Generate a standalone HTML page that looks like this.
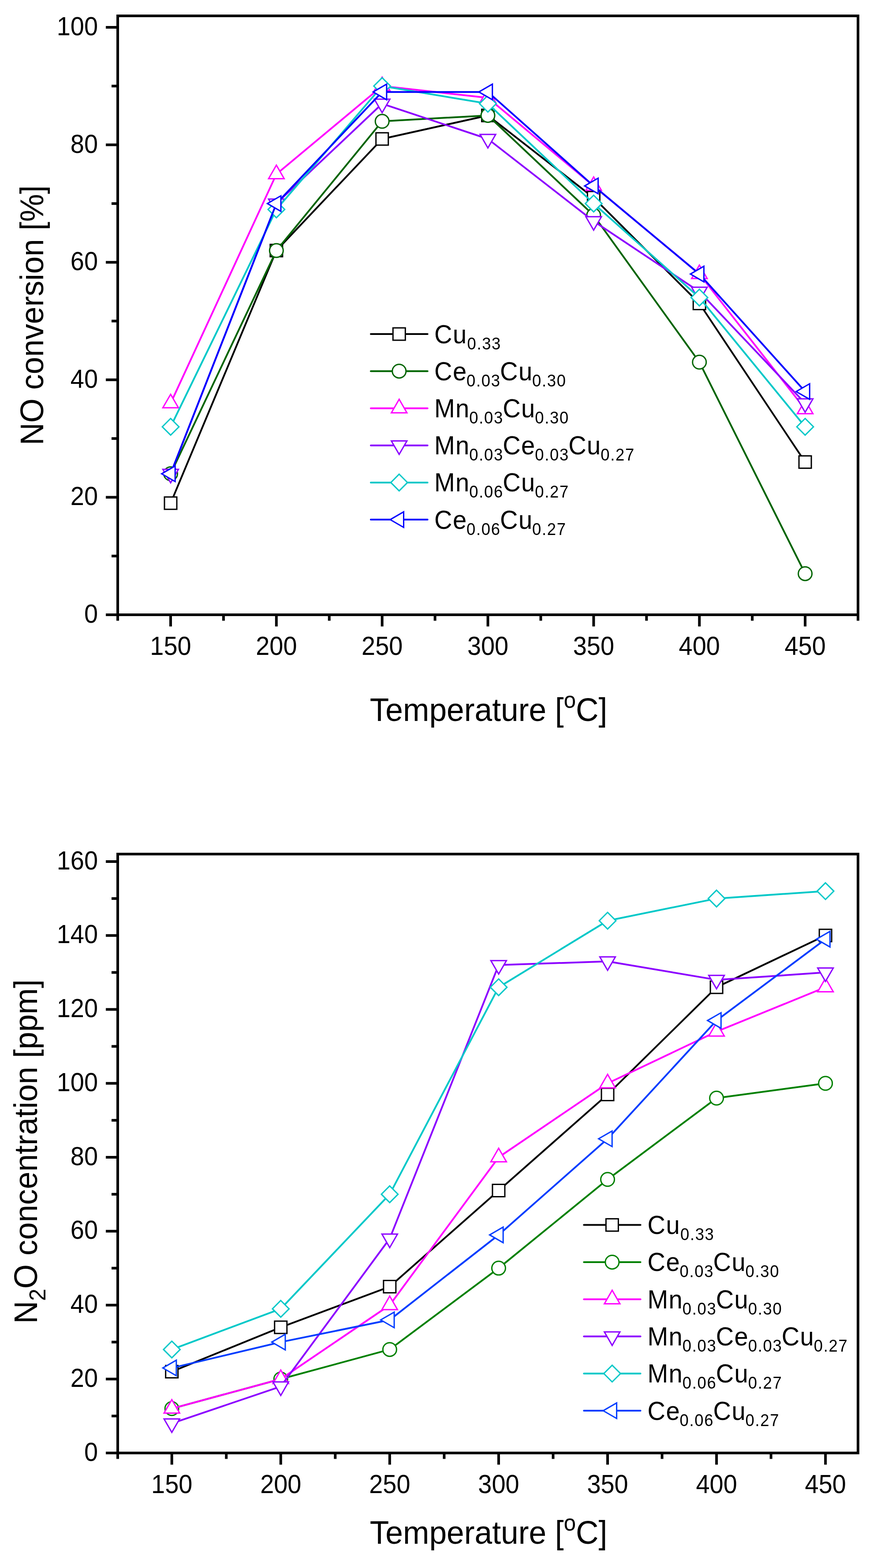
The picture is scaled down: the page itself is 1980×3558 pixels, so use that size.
<!DOCTYPE html>
<html><head><meta charset="utf-8"><title>NO conversion and N2O concentration vs temperature</title>
<style>html,body{margin:0;padding:0;background:#fff;}svg{display:block;}</style></head>
<body>
<svg width="1980" height="3558" viewBox="0 0 1980 3558" font-family="'Liberation Sans', Arial, Helvetica, sans-serif">
<rect width="1980" height="3558" fill="#fff"/>
<polyline points="387.00,1141.73 626.85,568.54 866.70,315.27 1106.55,261.95 1346.40,448.57 1586.25,688.51 1826.10,1048.42" fill="none" stroke="#000000" stroke-width="4" stroke-linejoin="round"/>
<rect x="373.00" y="1127.73" width="28.00" height="28.00" fill="#fff" stroke="#000000" stroke-width="3"/>
<rect x="612.85" y="554.54" width="28.00" height="28.00" fill="#fff" stroke="#000000" stroke-width="3"/>
<rect x="852.70" y="301.27" width="28.00" height="28.00" fill="#fff" stroke="#000000" stroke-width="3"/>
<rect x="1092.55" y="247.95" width="28.00" height="28.00" fill="#fff" stroke="#000000" stroke-width="3"/>
<rect x="1332.40" y="434.57" width="28.00" height="28.00" fill="#fff" stroke="#000000" stroke-width="3"/>
<rect x="1572.25" y="674.51" width="28.00" height="28.00" fill="#fff" stroke="#000000" stroke-width="3"/>
<rect x="1812.10" y="1034.42" width="28.00" height="28.00" fill="#fff" stroke="#000000" stroke-width="3"/>
<polyline points="387.00,1075.08 626.85,568.54 866.70,275.28 1106.55,261.95 1346.40,488.56 1586.25,821.81 1826.10,1301.69" fill="none" stroke="#006400" stroke-width="4" stroke-linejoin="round"/>
<circle cx="387.00" cy="1075.08" r="15.5" fill="#fff" stroke="#006400" stroke-width="3"/>
<circle cx="626.85" cy="568.54" r="15.5" fill="#fff" stroke="#006400" stroke-width="3"/>
<circle cx="866.70" cy="275.28" r="15.5" fill="#fff" stroke="#006400" stroke-width="3"/>
<circle cx="1106.55" cy="261.95" r="15.5" fill="#fff" stroke="#006400" stroke-width="3"/>
<circle cx="1346.40" cy="488.56" r="15.5" fill="#fff" stroke="#006400" stroke-width="3"/>
<circle cx="1586.25" cy="821.81" r="15.5" fill="#fff" stroke="#006400" stroke-width="3"/>
<circle cx="1826.10" cy="1301.69" r="15.5" fill="#fff" stroke="#006400" stroke-width="3"/>
<polyline points="387.00,915.12 626.85,395.25 866.70,195.30 1106.55,221.96 1346.40,421.91 1586.25,621.86 1826.10,928.45" fill="none" stroke="#FF00FF" stroke-width="4" stroke-linejoin="round"/>
<polygon points="387.00,894.72 404.67,925.32 369.33,925.32" fill="#fff" stroke="#FF00FF" stroke-width="3" stroke-linejoin="miter"/>
<polygon points="626.85,374.85 644.52,405.45 609.18,405.45" fill="#fff" stroke="#FF00FF" stroke-width="3" stroke-linejoin="miter"/>
<polygon points="866.70,174.90 884.37,205.50 849.03,205.50" fill="#fff" stroke="#FF00FF" stroke-width="3" stroke-linejoin="miter"/>
<polygon points="1106.55,201.56 1124.22,232.16 1088.88,232.16" fill="#fff" stroke="#FF00FF" stroke-width="3" stroke-linejoin="miter"/>
<polygon points="1346.40,401.51 1364.07,432.11 1328.73,432.11" fill="#fff" stroke="#FF00FF" stroke-width="3" stroke-linejoin="miter"/>
<polygon points="1586.25,601.46 1603.92,632.06 1568.58,632.06" fill="#fff" stroke="#FF00FF" stroke-width="3" stroke-linejoin="miter"/>
<polygon points="1826.10,908.05 1843.77,938.65 1808.43,938.65" fill="#fff" stroke="#FF00FF" stroke-width="3" stroke-linejoin="miter"/>
<polyline points="387.00,1075.08 626.85,461.90 866.70,235.29 1106.55,315.27 1346.40,501.89 1586.25,661.85 1826.10,915.12" fill="none" stroke="#8C00FF" stroke-width="4" stroke-linejoin="round"/>
<polygon points="387.00,1095.48 404.67,1064.88 369.33,1064.88" fill="#fff" stroke="#8C00FF" stroke-width="3" stroke-linejoin="miter"/>
<polygon points="626.85,482.30 644.52,451.70 609.18,451.70" fill="#fff" stroke="#8C00FF" stroke-width="3" stroke-linejoin="miter"/>
<polygon points="866.70,255.69 884.37,225.09 849.03,225.09" fill="#fff" stroke="#8C00FF" stroke-width="3" stroke-linejoin="miter"/>
<polygon points="1106.55,335.67 1124.22,305.07 1088.88,305.07" fill="#fff" stroke="#8C00FF" stroke-width="3" stroke-linejoin="miter"/>
<polygon points="1346.40,522.29 1364.07,491.69 1328.73,491.69" fill="#fff" stroke="#8C00FF" stroke-width="3" stroke-linejoin="miter"/>
<polygon points="1586.25,682.25 1603.92,651.65 1568.58,651.65" fill="#fff" stroke="#8C00FF" stroke-width="3" stroke-linejoin="miter"/>
<polygon points="1826.10,935.52 1843.77,904.92 1808.43,904.92" fill="#fff" stroke="#8C00FF" stroke-width="3" stroke-linejoin="miter"/>
<polyline points="387.00,968.44 626.85,475.23 866.70,195.30 1106.55,235.29 1346.40,461.90 1586.25,675.18 1826.10,968.44" fill="none" stroke="#00C8C8" stroke-width="4" stroke-linejoin="round"/>
<polygon points="387.00,949.54 405.90,968.44 387.00,987.34 368.10,968.44" fill="#fff" stroke="#00C8C8" stroke-width="3" stroke-linejoin="miter"/>
<polygon points="626.85,456.33 645.75,475.23 626.85,494.13 607.95,475.23" fill="#fff" stroke="#00C8C8" stroke-width="3" stroke-linejoin="miter"/>
<polygon points="866.70,176.40 885.60,195.30 866.70,214.20 847.80,195.30" fill="#fff" stroke="#00C8C8" stroke-width="3" stroke-linejoin="miter"/>
<polygon points="1106.55,216.39 1125.45,235.29 1106.55,254.19 1087.65,235.29" fill="#fff" stroke="#00C8C8" stroke-width="3" stroke-linejoin="miter"/>
<polygon points="1346.40,443.00 1365.30,461.90 1346.40,480.80 1327.50,461.90" fill="#fff" stroke="#00C8C8" stroke-width="3" stroke-linejoin="miter"/>
<polygon points="1586.25,656.28 1605.15,675.18 1586.25,694.08 1567.35,675.18" fill="#fff" stroke="#00C8C8" stroke-width="3" stroke-linejoin="miter"/>
<polygon points="1826.10,949.54 1845.00,968.44 1826.10,987.34 1807.20,968.44" fill="#fff" stroke="#00C8C8" stroke-width="3" stroke-linejoin="miter"/>
<polyline points="387.00,1075.08 626.85,461.90 866.70,208.63 1106.55,208.63 1346.40,421.91 1586.25,621.86 1826.10,888.46" fill="none" stroke="#0000FF" stroke-width="4" stroke-linejoin="round"/>
<polygon points="366.60,1075.08 397.20,1057.41 397.20,1092.75" fill="#fff" stroke="#0000FF" stroke-width="3" stroke-linejoin="miter"/>
<polygon points="606.45,461.90 637.05,444.23 637.05,479.57" fill="#fff" stroke="#0000FF" stroke-width="3" stroke-linejoin="miter"/>
<polygon points="846.30,208.63 876.90,190.96 876.90,226.30" fill="#fff" stroke="#0000FF" stroke-width="3" stroke-linejoin="miter"/>
<polygon points="1086.15,208.63 1116.75,190.96 1116.75,226.30" fill="#fff" stroke="#0000FF" stroke-width="3" stroke-linejoin="miter"/>
<polygon points="1326.00,421.91 1356.60,404.24 1356.60,439.58" fill="#fff" stroke="#0000FF" stroke-width="3" stroke-linejoin="miter"/>
<polygon points="1565.85,621.86 1596.45,604.19 1596.45,639.53" fill="#fff" stroke="#0000FF" stroke-width="3" stroke-linejoin="miter"/>
<polygon points="1805.70,888.46 1836.30,870.79 1836.30,906.13" fill="#fff" stroke="#0000FF" stroke-width="3" stroke-linejoin="miter"/>
<line x1="841" y1="758.00" x2="969.7" y2="758.00" stroke="#000000" stroke-width="4" stroke-linecap="round"/>
<rect x="891.30" y="744.00" width="28.00" height="28.00" fill="#fff" stroke="#000000" stroke-width="3"/>
<text transform="translate(985.00,778.50) scale(0.96,1)" font-size="58.5" text-anchor="start" ><tspan letter-spacing="1.4">Cu</tspan><tspan font-size="38" dy="14" letter-spacing="1.7">0.33</tspan></text>
<line x1="841" y1="842.22" x2="969.7" y2="842.22" stroke="#006400" stroke-width="4" stroke-linecap="round"/>
<circle cx="905.30" cy="842.22" r="15.5" fill="#fff" stroke="#006400" stroke-width="3"/>
<text transform="translate(985.00,862.72) scale(0.96,1)" font-size="58.5" text-anchor="start" ><tspan letter-spacing="1.4">Ce</tspan><tspan font-size="38" dy="14" dx="-1.4" letter-spacing="1.7">0.03</tspan><tspan dy="-14" dx="-1.7" letter-spacing="1.4">Cu</tspan><tspan font-size="38" dy="14" dx="-1.4" letter-spacing="1.7">0.30</tspan></text>
<line x1="841" y1="926.44" x2="969.7" y2="926.44" stroke="#FF00FF" stroke-width="4" stroke-linecap="round"/>
<polygon points="905.30,906.04 922.97,936.64 887.63,936.64" fill="#fff" stroke="#FF00FF" stroke-width="3" stroke-linejoin="miter"/>
<text transform="translate(985.00,946.94) scale(0.96,1)" font-size="58.5" text-anchor="start" ><tspan letter-spacing="1.4">Mn</tspan><tspan font-size="38" dy="14" dx="-1.4" letter-spacing="1.7">0.03</tspan><tspan dy="-14" dx="-1.7" letter-spacing="1.4">Cu</tspan><tspan font-size="38" dy="14" dx="-1.4" letter-spacing="1.7">0.30</tspan></text>
<line x1="841" y1="1010.66" x2="969.7" y2="1010.66" stroke="#8C00FF" stroke-width="4" stroke-linecap="round"/>
<polygon points="905.30,1031.06 922.97,1000.46 887.63,1000.46" fill="#fff" stroke="#8C00FF" stroke-width="3" stroke-linejoin="miter"/>
<text transform="translate(985.00,1031.16) scale(0.96,1)" font-size="58.5" text-anchor="start" ><tspan letter-spacing="1.4">Mn</tspan><tspan font-size="38" dy="14" dx="-1.4" letter-spacing="1.7">0.03</tspan><tspan dy="-14" dx="-1.7" letter-spacing="1.4">Ce</tspan><tspan font-size="38" dy="14" dx="-1.4" letter-spacing="1.7">0.03</tspan><tspan dy="-14" dx="-1.7" letter-spacing="1.4">Cu</tspan><tspan font-size="38" dy="14" dx="-1.4" letter-spacing="1.7">0.27</tspan></text>
<line x1="841" y1="1094.88" x2="969.7" y2="1094.88" stroke="#00C8C8" stroke-width="4" stroke-linecap="round"/>
<polygon points="905.30,1075.98 924.20,1094.88 905.30,1113.78 886.40,1094.88" fill="#fff" stroke="#00C8C8" stroke-width="3" stroke-linejoin="miter"/>
<text transform="translate(985.00,1115.38) scale(0.96,1)" font-size="58.5" text-anchor="start" ><tspan letter-spacing="1.4">Mn</tspan><tspan font-size="38" dy="14" dx="-1.4" letter-spacing="1.7">0.06</tspan><tspan dy="-14" dx="-1.7" letter-spacing="1.4">Cu</tspan><tspan font-size="38" dy="14" dx="-1.4" letter-spacing="1.7">0.27</tspan></text>
<line x1="841" y1="1179.10" x2="969.7" y2="1179.10" stroke="#0000FF" stroke-width="4" stroke-linecap="round"/>
<polygon points="884.90,1179.10 915.50,1161.43 915.50,1196.77" fill="#fff" stroke="#0000FF" stroke-width="3" stroke-linejoin="miter"/>
<text transform="translate(985.00,1199.60) scale(0.96,1)" font-size="58.5" text-anchor="start" ><tspan letter-spacing="1.4">Ce</tspan><tspan font-size="38" dy="14" dx="-1.4" letter-spacing="1.7">0.06</tspan><tspan dy="-14" dx="-1.7" letter-spacing="1.4">Cu</tspan><tspan font-size="38" dy="14" dx="-1.4" letter-spacing="1.7">0.27</tspan></text>
<rect x="267" y="36" width="1679" height="1359" fill="none" stroke="#000" stroke-width="6" stroke-linejoin="miter"/>
<line x1="240" y1="1395.00" x2="267" y2="1395.00" stroke="#000" stroke-width="6"/>
<text transform="translate(222.00,1413.00) scale(0.956,1)" font-size="58.5" text-anchor="end" >0</text>
<line x1="240" y1="1128.40" x2="267" y2="1128.40" stroke="#000" stroke-width="6"/>
<text transform="translate(222.00,1146.40) scale(0.956,1)" font-size="58.5" text-anchor="end" >20</text>
<line x1="240" y1="861.80" x2="267" y2="861.80" stroke="#000" stroke-width="6"/>
<text transform="translate(222.00,879.80) scale(0.956,1)" font-size="58.5" text-anchor="end" >40</text>
<line x1="240" y1="595.20" x2="267" y2="595.20" stroke="#000" stroke-width="6"/>
<text transform="translate(222.00,613.20) scale(0.956,1)" font-size="58.5" text-anchor="end" >60</text>
<line x1="240" y1="328.60" x2="267" y2="328.60" stroke="#000" stroke-width="6"/>
<text transform="translate(222.00,346.60) scale(0.956,1)" font-size="58.5" text-anchor="end" >80</text>
<line x1="240" y1="62.00" x2="267" y2="62.00" stroke="#000" stroke-width="6"/>
<text transform="translate(222.00,80.00) scale(0.956,1)" font-size="58.5" text-anchor="end" >100</text>
<line x1="253" y1="1261.70" x2="267" y2="1261.70" stroke="#000" stroke-width="6"/>
<line x1="253" y1="995.10" x2="267" y2="995.10" stroke="#000" stroke-width="6"/>
<line x1="253" y1="728.50" x2="267" y2="728.50" stroke="#000" stroke-width="6"/>
<line x1="253" y1="461.90" x2="267" y2="461.90" stroke="#000" stroke-width="6"/>
<line x1="253" y1="195.30" x2="267" y2="195.30" stroke="#000" stroke-width="6"/>
<line x1="387.00" y1="1395" x2="387.00" y2="1421.50" stroke="#000" stroke-width="6"/>
<text transform="translate(387.00,1486.00) scale(0.956,1)" font-size="58.5" text-anchor="middle" >150</text>
<line x1="626.85" y1="1395" x2="626.85" y2="1421.50" stroke="#000" stroke-width="6"/>
<text transform="translate(626.85,1486.00) scale(0.956,1)" font-size="58.5" text-anchor="middle" >200</text>
<line x1="866.70" y1="1395" x2="866.70" y2="1421.50" stroke="#000" stroke-width="6"/>
<text transform="translate(866.70,1486.00) scale(0.956,1)" font-size="58.5" text-anchor="middle" >250</text>
<line x1="1106.55" y1="1395" x2="1106.55" y2="1421.50" stroke="#000" stroke-width="6"/>
<text transform="translate(1106.55,1486.00) scale(0.956,1)" font-size="58.5" text-anchor="middle" >300</text>
<line x1="1346.40" y1="1395" x2="1346.40" y2="1421.50" stroke="#000" stroke-width="6"/>
<text transform="translate(1346.40,1486.00) scale(0.956,1)" font-size="58.5" text-anchor="middle" >350</text>
<line x1="1586.25" y1="1395" x2="1586.25" y2="1421.50" stroke="#000" stroke-width="6"/>
<text transform="translate(1586.25,1486.00) scale(0.956,1)" font-size="58.5" text-anchor="middle" >400</text>
<line x1="1826.10" y1="1395" x2="1826.10" y2="1421.50" stroke="#000" stroke-width="6"/>
<text transform="translate(1826.10,1486.00) scale(0.956,1)" font-size="58.5" text-anchor="middle" >450</text>
<line x1="267.00" y1="1395" x2="267.00" y2="1408.50" stroke="#000" stroke-width="6"/>
<line x1="506.93" y1="1395" x2="506.93" y2="1408.50" stroke="#000" stroke-width="6"/>
<line x1="746.77" y1="1395" x2="746.77" y2="1408.50" stroke="#000" stroke-width="6"/>
<line x1="986.62" y1="1395" x2="986.62" y2="1408.50" stroke="#000" stroke-width="6"/>
<line x1="1226.47" y1="1395" x2="1226.47" y2="1408.50" stroke="#000" stroke-width="6"/>
<line x1="1466.33" y1="1395" x2="1466.33" y2="1408.50" stroke="#000" stroke-width="6"/>
<line x1="1706.17" y1="1395" x2="1706.17" y2="1408.50" stroke="#000" stroke-width="6"/>
<line x1="1946.00" y1="1395" x2="1946.00" y2="1408.50" stroke="#000" stroke-width="6"/>
<text transform="translate(1108.00,1636.30) scale(0.964,1)" font-size="74" text-anchor="middle" >Temperature [<tspan font-size="51" dy="-30">o</tspan><tspan dy="30">C]</tspan></text>
<text transform="translate(98,715.5) rotate(-90) scale(0.956,1)" font-size="74" text-anchor="middle">NO conversion [%]</text>
<polyline points="389.70,3112.47 636.78,3011.82 883.87,2919.56 1130.95,2701.49 1378.04,2483.41 1625.12,2240.18 1872.21,2122.75" fill="none" stroke="#000000" stroke-width="4" stroke-linejoin="round"/>
<rect x="375.70" y="3098.47" width="28.00" height="28.00" fill="#fff" stroke="#000000" stroke-width="3"/>
<rect x="622.78" y="2997.82" width="28.00" height="28.00" fill="#fff" stroke="#000000" stroke-width="3"/>
<rect x="869.87" y="2905.56" width="28.00" height="28.00" fill="#fff" stroke="#000000" stroke-width="3"/>
<rect x="1116.95" y="2687.49" width="28.00" height="28.00" fill="#fff" stroke="#000000" stroke-width="3"/>
<rect x="1364.04" y="2469.41" width="28.00" height="28.00" fill="#fff" stroke="#000000" stroke-width="3"/>
<rect x="1611.12" y="2226.18" width="28.00" height="28.00" fill="#fff" stroke="#000000" stroke-width="3"/>
<rect x="1858.21" y="2108.75" width="28.00" height="28.00" fill="#fff" stroke="#000000" stroke-width="3"/>
<polyline points="389.70,3196.35 636.78,3129.25 883.87,3062.15 1130.95,2877.62 1378.04,2676.32 1625.12,2491.80 1872.21,2458.25" fill="none" stroke="#008000" stroke-width="4" stroke-linejoin="round"/>
<circle cx="389.70" cy="3196.35" r="15.5" fill="#fff" stroke="#008000" stroke-width="3"/>
<circle cx="636.78" cy="3129.25" r="15.5" fill="#fff" stroke="#008000" stroke-width="3"/>
<circle cx="883.87" cy="3062.15" r="15.5" fill="#fff" stroke="#008000" stroke-width="3"/>
<circle cx="1130.95" cy="2877.62" r="15.5" fill="#fff" stroke="#008000" stroke-width="3"/>
<circle cx="1378.04" cy="2676.32" r="15.5" fill="#fff" stroke="#008000" stroke-width="3"/>
<circle cx="1625.12" cy="2491.80" r="15.5" fill="#fff" stroke="#008000" stroke-width="3"/>
<circle cx="1872.21" cy="2458.25" r="15.5" fill="#fff" stroke="#008000" stroke-width="3"/>
<polyline points="389.70,3196.35 636.78,3129.25 883.87,2961.50 1130.95,2626.00 1378.04,2458.25 1625.12,2340.82 1872.21,2240.18" fill="none" stroke="#FF00FF" stroke-width="4" stroke-linejoin="round"/>
<polygon points="389.70,3175.95 407.37,3206.55 372.03,3206.55" fill="#fff" stroke="#FF00FF" stroke-width="3" stroke-linejoin="miter"/>
<polygon points="636.78,3108.85 654.45,3139.45 619.12,3139.45" fill="#fff" stroke="#FF00FF" stroke-width="3" stroke-linejoin="miter"/>
<polygon points="883.87,2941.10 901.54,2971.70 866.20,2971.70" fill="#fff" stroke="#FF00FF" stroke-width="3" stroke-linejoin="miter"/>
<polygon points="1130.95,2605.60 1148.62,2636.20 1113.29,2636.20" fill="#fff" stroke="#FF00FF" stroke-width="3" stroke-linejoin="miter"/>
<polygon points="1378.04,2437.85 1395.71,2468.45 1360.37,2468.45" fill="#fff" stroke="#FF00FF" stroke-width="3" stroke-linejoin="miter"/>
<polygon points="1625.12,2320.42 1642.79,2351.02 1607.46,2351.02" fill="#fff" stroke="#FF00FF" stroke-width="3" stroke-linejoin="miter"/>
<polygon points="1872.21,2219.78 1889.88,2250.38 1854.54,2250.38" fill="#fff" stroke="#FF00FF" stroke-width="3" stroke-linejoin="miter"/>
<polyline points="389.70,3229.90 636.78,3146.03 883.87,2810.53 1130.95,2189.85 1378.04,2181.46 1625.12,2223.40 1872.21,2206.62" fill="none" stroke="#8C00FF" stroke-width="4" stroke-linejoin="round"/>
<polygon points="389.70,3250.30 407.37,3219.70 372.03,3219.70" fill="#fff" stroke="#8C00FF" stroke-width="3" stroke-linejoin="miter"/>
<polygon points="636.78,3166.43 654.45,3135.83 619.12,3135.83" fill="#fff" stroke="#8C00FF" stroke-width="3" stroke-linejoin="miter"/>
<polygon points="883.87,2830.93 901.54,2800.33 866.20,2800.33" fill="#fff" stroke="#8C00FF" stroke-width="3" stroke-linejoin="miter"/>
<polygon points="1130.95,2210.25 1148.62,2179.65 1113.29,2179.65" fill="#fff" stroke="#8C00FF" stroke-width="3" stroke-linejoin="miter"/>
<polygon points="1378.04,2201.86 1395.71,2171.26 1360.37,2171.26" fill="#fff" stroke="#8C00FF" stroke-width="3" stroke-linejoin="miter"/>
<polygon points="1625.12,2243.80 1642.79,2213.20 1607.46,2213.20" fill="#fff" stroke="#8C00FF" stroke-width="3" stroke-linejoin="miter"/>
<polygon points="1872.21,2227.03 1889.88,2196.43 1854.54,2196.43" fill="#fff" stroke="#8C00FF" stroke-width="3" stroke-linejoin="miter"/>
<polyline points="389.70,3062.15 636.78,2969.89 883.87,2709.88 1130.95,2240.18 1378.04,2089.20 1625.12,2038.88 1872.21,2022.10" fill="none" stroke="#00C8C8" stroke-width="4" stroke-linejoin="round"/>
<polygon points="389.70,3043.25 408.60,3062.15 389.70,3081.05 370.80,3062.15" fill="#fff" stroke="#00C8C8" stroke-width="3" stroke-linejoin="miter"/>
<polygon points="636.78,2950.99 655.68,2969.89 636.78,2988.79 617.88,2969.89" fill="#fff" stroke="#00C8C8" stroke-width="3" stroke-linejoin="miter"/>
<polygon points="883.87,2690.97 902.77,2709.88 883.87,2728.78 864.97,2709.88" fill="#fff" stroke="#00C8C8" stroke-width="3" stroke-linejoin="miter"/>
<polygon points="1130.95,2221.28 1149.86,2240.18 1130.95,2259.08 1112.05,2240.18" fill="#fff" stroke="#00C8C8" stroke-width="3" stroke-linejoin="miter"/>
<polygon points="1378.04,2070.30 1396.94,2089.20 1378.04,2108.10 1359.14,2089.20" fill="#fff" stroke="#00C8C8" stroke-width="3" stroke-linejoin="miter"/>
<polygon points="1625.12,2019.97 1644.03,2038.88 1625.12,2057.78 1606.22,2038.88" fill="#fff" stroke="#00C8C8" stroke-width="3" stroke-linejoin="miter"/>
<polygon points="1872.21,2003.20 1891.11,2022.10 1872.21,2041.00 1853.31,2022.10" fill="#fff" stroke="#00C8C8" stroke-width="3" stroke-linejoin="miter"/>
<polyline points="389.70,3104.09 636.78,3045.38 883.87,2995.05 1130.95,2802.14 1378.04,2584.06 1625.12,2315.66 1872.21,2131.14" fill="none" stroke="#003CFF" stroke-width="4" stroke-linejoin="round"/>
<polygon points="369.30,3104.09 399.90,3086.42 399.90,3121.75" fill="#fff" stroke="#003CFF" stroke-width="3" stroke-linejoin="miter"/>
<polygon points="616.38,3045.38 646.99,3027.71 646.99,3063.04" fill="#fff" stroke="#003CFF" stroke-width="3" stroke-linejoin="miter"/>
<polygon points="863.47,2995.05 894.07,2977.38 894.07,3012.72" fill="#fff" stroke="#003CFF" stroke-width="3" stroke-linejoin="miter"/>
<polygon points="1110.55,2802.14 1141.15,2784.47 1141.15,2819.80" fill="#fff" stroke="#003CFF" stroke-width="3" stroke-linejoin="miter"/>
<polygon points="1357.64,2584.06 1388.24,2566.40 1388.24,2601.73" fill="#fff" stroke="#003CFF" stroke-width="3" stroke-linejoin="miter"/>
<polygon points="1604.72,2315.66 1635.33,2298.00 1635.33,2333.33" fill="#fff" stroke="#003CFF" stroke-width="3" stroke-linejoin="miter"/>
<polygon points="1851.81,2131.14 1882.41,2113.47 1882.41,2148.80" fill="#fff" stroke="#003CFF" stroke-width="3" stroke-linejoin="miter"/>
<line x1="1324.3" y1="2779.60" x2="1452.6" y2="2779.60" stroke="#000000" stroke-width="4" stroke-linecap="round"/>
<rect x="1374.40" y="2765.60" width="28.00" height="28.00" fill="#fff" stroke="#000000" stroke-width="3"/>
<text transform="translate(1468.50,2800.10) scale(0.96,1)" font-size="58.5" text-anchor="start" ><tspan letter-spacing="1.4">Cu</tspan><tspan font-size="38" dy="14" letter-spacing="1.7">0.33</tspan></text>
<line x1="1324.3" y1="2863.90" x2="1452.6" y2="2863.90" stroke="#008000" stroke-width="4" stroke-linecap="round"/>
<circle cx="1388.40" cy="2863.90" r="15.5" fill="#fff" stroke="#008000" stroke-width="3"/>
<text transform="translate(1468.50,2884.40) scale(0.96,1)" font-size="58.5" text-anchor="start" ><tspan letter-spacing="1.4">Ce</tspan><tspan font-size="38" dy="14" dx="-1.4" letter-spacing="1.7">0.03</tspan><tspan dy="-14" dx="-1.7" letter-spacing="1.4">Cu</tspan><tspan font-size="38" dy="14" dx="-1.4" letter-spacing="1.7">0.30</tspan></text>
<line x1="1324.3" y1="2948.20" x2="1452.6" y2="2948.20" stroke="#FF00FF" stroke-width="4" stroke-linecap="round"/>
<polygon points="1388.40,2927.80 1406.07,2958.40 1370.73,2958.40" fill="#fff" stroke="#FF00FF" stroke-width="3" stroke-linejoin="miter"/>
<text transform="translate(1468.50,2968.70) scale(0.96,1)" font-size="58.5" text-anchor="start" ><tspan letter-spacing="1.4">Mn</tspan><tspan font-size="38" dy="14" dx="-1.4" letter-spacing="1.7">0.03</tspan><tspan dy="-14" dx="-1.7" letter-spacing="1.4">Cu</tspan><tspan font-size="38" dy="14" dx="-1.4" letter-spacing="1.7">0.30</tspan></text>
<line x1="1324.3" y1="3032.50" x2="1452.6" y2="3032.50" stroke="#8C00FF" stroke-width="4" stroke-linecap="round"/>
<polygon points="1388.40,3052.90 1406.07,3022.30 1370.73,3022.30" fill="#fff" stroke="#8C00FF" stroke-width="3" stroke-linejoin="miter"/>
<text transform="translate(1468.50,3053.00) scale(0.96,1)" font-size="58.5" text-anchor="start" ><tspan letter-spacing="1.4">Mn</tspan><tspan font-size="38" dy="14" dx="-1.4" letter-spacing="1.7">0.03</tspan><tspan dy="-14" dx="-1.7" letter-spacing="1.4">Ce</tspan><tspan font-size="38" dy="14" dx="-1.4" letter-spacing="1.7">0.03</tspan><tspan dy="-14" dx="-1.7" letter-spacing="1.4">Cu</tspan><tspan font-size="38" dy="14" dx="-1.4" letter-spacing="1.7">0.27</tspan></text>
<line x1="1324.3" y1="3116.80" x2="1452.6" y2="3116.80" stroke="#00C8C8" stroke-width="4" stroke-linecap="round"/>
<polygon points="1388.40,3097.90 1407.30,3116.80 1388.40,3135.70 1369.50,3116.80" fill="#fff" stroke="#00C8C8" stroke-width="3" stroke-linejoin="miter"/>
<text transform="translate(1468.50,3137.30) scale(0.96,1)" font-size="58.5" text-anchor="start" ><tspan letter-spacing="1.4">Mn</tspan><tspan font-size="38" dy="14" dx="-1.4" letter-spacing="1.7">0.06</tspan><tspan dy="-14" dx="-1.7" letter-spacing="1.4">Cu</tspan><tspan font-size="38" dy="14" dx="-1.4" letter-spacing="1.7">0.27</tspan></text>
<line x1="1324.3" y1="3201.10" x2="1452.6" y2="3201.10" stroke="#003CFF" stroke-width="4" stroke-linecap="round"/>
<polygon points="1368.00,3201.10 1398.60,3183.43 1398.60,3218.77" fill="#fff" stroke="#003CFF" stroke-width="3" stroke-linejoin="miter"/>
<text transform="translate(1468.50,3221.60) scale(0.96,1)" font-size="58.5" text-anchor="start" ><tspan letter-spacing="1.4">Ce</tspan><tspan font-size="38" dy="14" dx="-1.4" letter-spacing="1.7">0.06</tspan><tspan dy="-14" dx="-1.7" letter-spacing="1.4">Cu</tspan><tspan font-size="38" dy="14" dx="-1.4" letter-spacing="1.7">0.27</tspan></text>
<rect x="267" y="1938" width="1679" height="1359" fill="none" stroke="#000" stroke-width="6" stroke-linejoin="miter"/>
<line x1="240" y1="3297.00" x2="267" y2="3297.00" stroke="#000" stroke-width="6"/>
<text transform="translate(222.00,3314.50) scale(0.956,1)" font-size="58.5" text-anchor="end" >0</text>
<line x1="240" y1="3129.25" x2="267" y2="3129.25" stroke="#000" stroke-width="6"/>
<text transform="translate(222.00,3146.75) scale(0.956,1)" font-size="58.5" text-anchor="end" >20</text>
<line x1="240" y1="2961.50" x2="267" y2="2961.50" stroke="#000" stroke-width="6"/>
<text transform="translate(222.00,2979.00) scale(0.956,1)" font-size="58.5" text-anchor="end" >40</text>
<line x1="240" y1="2793.75" x2="267" y2="2793.75" stroke="#000" stroke-width="6"/>
<text transform="translate(222.00,2811.25) scale(0.956,1)" font-size="58.5" text-anchor="end" >60</text>
<line x1="240" y1="2626.00" x2="267" y2="2626.00" stroke="#000" stroke-width="6"/>
<text transform="translate(222.00,2643.50) scale(0.956,1)" font-size="58.5" text-anchor="end" >80</text>
<line x1="240" y1="2458.25" x2="267" y2="2458.25" stroke="#000" stroke-width="6"/>
<text transform="translate(222.00,2475.75) scale(0.956,1)" font-size="58.5" text-anchor="end" >100</text>
<line x1="240" y1="2290.50" x2="267" y2="2290.50" stroke="#000" stroke-width="6"/>
<text transform="translate(222.00,2308.00) scale(0.956,1)" font-size="58.5" text-anchor="end" >120</text>
<line x1="240" y1="2122.75" x2="267" y2="2122.75" stroke="#000" stroke-width="6"/>
<text transform="translate(222.00,2140.25) scale(0.956,1)" font-size="58.5" text-anchor="end" >140</text>
<line x1="240" y1="1955.00" x2="267" y2="1955.00" stroke="#000" stroke-width="6"/>
<text transform="translate(222.00,1972.50) scale(0.956,1)" font-size="58.5" text-anchor="end" >160</text>
<line x1="253" y1="3213.12" x2="267" y2="3213.12" stroke="#000" stroke-width="6"/>
<line x1="253" y1="3045.38" x2="267" y2="3045.38" stroke="#000" stroke-width="6"/>
<line x1="253" y1="2877.62" x2="267" y2="2877.62" stroke="#000" stroke-width="6"/>
<line x1="253" y1="2709.88" x2="267" y2="2709.88" stroke="#000" stroke-width="6"/>
<line x1="253" y1="2542.12" x2="267" y2="2542.12" stroke="#000" stroke-width="6"/>
<line x1="253" y1="2374.38" x2="267" y2="2374.38" stroke="#000" stroke-width="6"/>
<line x1="253" y1="2206.62" x2="267" y2="2206.62" stroke="#000" stroke-width="6"/>
<line x1="253" y1="2038.88" x2="267" y2="2038.88" stroke="#000" stroke-width="6"/>
<line x1="389.70" y1="3297" x2="389.70" y2="3323.50" stroke="#000" stroke-width="6"/>
<text transform="translate(389.70,3388.00) scale(0.956,1)" font-size="58.5" text-anchor="middle" >150</text>
<line x1="636.78" y1="3297" x2="636.78" y2="3323.50" stroke="#000" stroke-width="6"/>
<text transform="translate(636.78,3388.00) scale(0.956,1)" font-size="58.5" text-anchor="middle" >200</text>
<line x1="883.87" y1="3297" x2="883.87" y2="3323.50" stroke="#000" stroke-width="6"/>
<text transform="translate(883.87,3388.00) scale(0.956,1)" font-size="58.5" text-anchor="middle" >250</text>
<line x1="1130.95" y1="3297" x2="1130.95" y2="3323.50" stroke="#000" stroke-width="6"/>
<text transform="translate(1130.95,3388.00) scale(0.956,1)" font-size="58.5" text-anchor="middle" >300</text>
<line x1="1378.04" y1="3297" x2="1378.04" y2="3323.50" stroke="#000" stroke-width="6"/>
<text transform="translate(1378.04,3388.00) scale(0.956,1)" font-size="58.5" text-anchor="middle" >350</text>
<line x1="1625.12" y1="3297" x2="1625.12" y2="3323.50" stroke="#000" stroke-width="6"/>
<text transform="translate(1625.12,3388.00) scale(0.956,1)" font-size="58.5" text-anchor="middle" >400</text>
<line x1="1872.21" y1="3297" x2="1872.21" y2="3323.50" stroke="#000" stroke-width="6"/>
<text transform="translate(1872.21,3388.00) scale(0.956,1)" font-size="58.5" text-anchor="middle" >450</text>
<line x1="267.00" y1="3297" x2="267.00" y2="3310.50" stroke="#000" stroke-width="6"/>
<line x1="513.24" y1="3297" x2="513.24" y2="3310.50" stroke="#000" stroke-width="6"/>
<line x1="760.33" y1="3297" x2="760.33" y2="3310.50" stroke="#000" stroke-width="6"/>
<line x1="1007.41" y1="3297" x2="1007.41" y2="3310.50" stroke="#000" stroke-width="6"/>
<line x1="1254.50" y1="3297" x2="1254.50" y2="3310.50" stroke="#000" stroke-width="6"/>
<line x1="1501.58" y1="3297" x2="1501.58" y2="3310.50" stroke="#000" stroke-width="6"/>
<line x1="1748.67" y1="3297" x2="1748.67" y2="3310.50" stroke="#000" stroke-width="6"/>
<text transform="translate(1108.00,3503.40) scale(0.964,1)" font-size="74" text-anchor="middle" >Temperature [<tspan font-size="51" dy="-30">o</tspan><tspan dy="30">C]</tspan></text>
<text transform="translate(84,2613) rotate(-90) scale(0.964,1)" font-size="74" text-anchor="middle">N<tspan font-size="52" dy="19">2</tspan><tspan dy="-19">O concentration [ppm]</tspan></text>
</svg>
</body></html>
